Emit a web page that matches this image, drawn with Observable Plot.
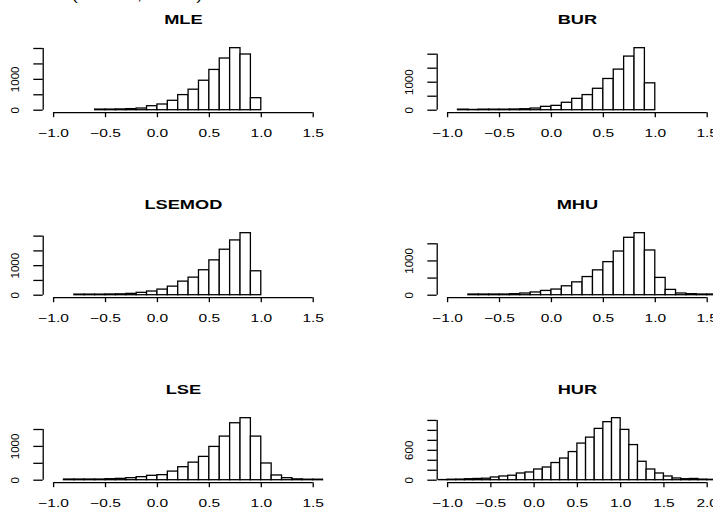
<!DOCTYPE html>
<html>
<head>
<meta charset="utf-8">
<script src="https://cdn.jsdelivr.net/npm/d3@7"></script>
<script src="https://cdn.jsdelivr.net/npm/@observablehq/plot@0.6"></script>
<style>
html, body { margin: 0; padding: 0; background: #fff; }
#chart { position: relative; width: 713px; height: 508px; overflow: hidden; background: #fff; }
.panel { position: absolute; }
#toptext { position: absolute; left: 72px; top: -11px; font: 13px "Liberation Sans", Arial, sans-serif; line-height: 13px;
  transform: scaleX(1.35); transform-origin: left top; white-space: pre; color: #000; }
</style>
</head>
<body>
<div id="chart"><div id="toptext">(n = 100, T = 50)</div></div>
<script>
// ---- data (histogram counts, bin width 0.1) ----
const titles = ["MLE", "BUR", "LSEMOD", "MHU", "LSE", "HUR"];
const binWidth = 0.1;
const binStarts = [-0.6, -0.9, -0.8, -0.8, -0.9, -1.1];

const mleCounts    = [20, 20, 25, 35, 55, 130, 185, 305, 490, 665, 955, 1305, 1675, 2010, 1805, 390];
const burCounts    = [20, 10, 20, 20, 20, 25, 35, 60, 120, 155, 265, 405, 540, 765, 1115, 1450, 1915, 2215, 960];
const lsemodCounts = [20, 20, 20, 25, 30, 45, 80, 125, 190, 290, 460, 595, 845, 1180, 1540, 1855, 2100, 810];
const mhuCounts    = [20, 20, 20, 20, 30, 50, 80, 125, 165, 260, 375, 530, 725, 965, 1275, 1675, 1810, 1305, 505, 155, 50, 30, 20, 20, 10];
const lseCounts    = [20, 20, 20, 20, 30, 40, 60, 90, 130, 150, 255, 385, 520, 690, 985, 1290, 1685, 1835, 1290, 495, 140, 60, 25, 15, 15, 10];
const hurCounts    = [3, 10, 12, 20, 25, 30, 55, 75, 90, 135, 155, 215, 255, 345, 435, 565, 735, 855, 1030, 1165, 1245, 1010, 705, 370, 215, 135, 75, 35, 20, 25, 12, 8, 3];

const xTicksA = [-1.0, -0.5, 0.0, 0.5, 1.0, 1.5];
const xTicksB = [-1.0, -0.5, 0.0, 0.5, 1.0, 1.5, 2.0];
const yTicks2000 = [0, 500, 1000, 1500, 2000];
const yTicks1500 = [0, 500, 1000, 1500];
const yTicks1200 = [0, 200, 400, 600, 800, 1000, 1200];
const yLabels1000 = [0, 1000];
const yLabels600 = [0, 600];

const countsList = [mleCounts, burCounts, lsemodCounts, mhuCounts, lseCounts, hurCounts];
const xTicksList = [xTicksA, xTicksA, xTicksA, xTicksA, xTicksA, xTicksB];
const yTicksList = [yTicks2000, yTicks2000, yTicks2000, yTicks1500, yTicks1500, yTicks1200];
const yLabelsList = [yLabels1000, yLabels1000, yLabels1000, yLabels1000, yLabels1000, yLabels600];

// ---- layout ----
const colW = 393.6, rowH = 185.15, svgH = 185;
const STRETCH = 1.35;
const fmt = d3.format(".1f");
const chart = document.getElementById("chart");

function stretchText(svg) {
  d3.select(svg).selectAll("text").each(function () {
    const t = this.getAttribute("transform") || "";
    if (t.includes("rotate")) return;
    const x = parseFloat(this.getAttribute("x")) || 0;
    this.setAttribute("x", 0);
    this.setAttribute("transform", `${t} translate(${x},0) scale(${STRETCH},1)`);
  });
}

titles.forEach((title, i) => {
  const r = Math.floor(i / 2), c = i % 2;
  const counts = countsList[i];
  const bins = counts.map((n, k) => ({
    x1: +(binStarts[i] + k * binWidth).toFixed(3),
    x2: +(binStarts[i] + (k + 1) * binWidth).toFixed(3),
    n
  }));
  const xt = xTicksList[i];
  const xr = xt[xt.length - 1] - xt[0];
  const x0 = xt[0] - 0.04 * xr, x1 = xt[xt.length - 1] + 0.04 * xr;
  const ymax = d3.max(counts);
  const y0 = -0.04 * ymax, y1 = 1.04 * ymax;
  const yt = yTicksList[i];

  const svg = Plot.plot({
    width: colW,
    height: svgH,
    marginLeft: 42.7,
    marginRight: colW - 323.1,
    marginTop: 45.2,
    marginBottom: svgH - 112.2,
    x: {domain: [x0, x1]},
    y: {domain: [y0, y1]},
    style: {fontFamily: "'Liberation Sans', Arial, sans-serif", fontSize: "11.5px", background: "transparent", color: "#000", overflow: "visible"},
    marks: [
      Plot.rect(bins, {x1: "x1", x2: "x2", y1: 0, y2: "n", fill: "white", stroke: "black", strokeWidth: 1.3, clip: true}),
      Plot.ruleY([y0], {x1: xt[0], x2: xt[xt.length - 1], stroke: "black", strokeWidth: 1.3}),
      Plot.axisX({ticks: xt, tickSize: 5, tickPadding: 10.8, tickFormat: fmt, label: null, stroke: "black", strokeWidth: 1.3, fill: "black"}),
      Plot.ruleX([x0], {y1: 0, y2: yt[yt.length - 1], stroke: "black", strokeWidth: 1.3}),
      Plot.axisY({ticks: yt, tickSize: 9.4, tickFormat: () => "", label: null, stroke: "black", strokeWidth: 1.3}),
      Plot.text(yLabelsList[i], {x: () => x0, y: d => d, text: d => String(d), rotate: -90, dx: -27.5, fill: "black", fontSize: 11.5}),
      Plot.text([title], {frameAnchor: "top", lineAnchor: "middle", dy: -25.7, fontWeight: "bold", fontSize: 13.5, fill: "black"})
    ]
  });
  svg.classList.add("panel");
  svg.style.left = (c * colW) + "px";
  svg.style.top = (r * rowH) + "px";
  stretchText(svg);
  chart.appendChild(svg);
});
</script>
</body>
</html>
